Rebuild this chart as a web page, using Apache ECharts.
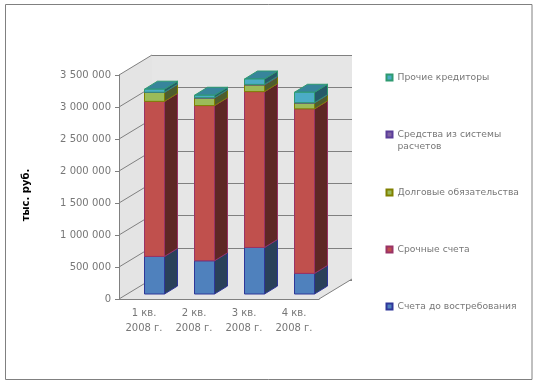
<!DOCTYPE html>
<html>
<head>
<meta charset="utf-8">
<script src="https://cdn.jsdelivr.net/npm/echarts@6/dist/echarts.min.js"></script>
<style>
  html, body { margin: 0; padding: 0; background: #fff; }
  #chart { width: 539px; height: 384px; }
</style>
</head>
<body>
<div id="chart"></div>
<script>
const quarters = ['1 кв.\n2008 г.', '2 кв.\n2008 г.', '3 кв.\n2008 г.', '4 кв.\n2008 г.'];
const demandAccounts = [587000, 519000, 727000, 322000];
const termAccounts = [2423000, 2425000, 2435000, 2571000];
const debtObligations = [140000, 120000, 104000, 93000];
const settlementFunds = [3000, 3000, 9000, 3000];
const otherCreditors = [47000, 38000, 84000, 163000];

const yTicks = [0, 500000, 1000000, 1500000, 2000000, 2500000, 3000000, 3500000];

const seriesDefs = [
  { name: 'Счета до востребования', values: demandAccounts, front: '#4f81bd', side: '#2a4159', top: '#3d6590', line: '#2f3699', legendY: 306 },
  { name: 'Срочные счета', values: termAccounts, front: '#c0504d', side: '#5e2725', top: '#8f3b39', line: '#993366', legendY: 249 },
  { name: 'Долговые обязательства', values: debtObligations, front: '#9bbb59', side: '#4e5d2d', top: '#748c43', line: '#808000', legendY: 192 },
  { name: 'Средства из системы расчетов', values: settlementFunds, front: '#8064a2', side: '#403251', top: '#604b7a', line: '#5a3d99', legendY: 134 },
  { name: 'Прочие кредиторы', values: otherCreditors, front: '#4bacc6', side: '#255a68', top: '#37859b', line: '#2e9a70', legendY: 77 }
];

// depth of the fake 3d box
const wallDx = 33;
const wallDy = 20;
// bars stand a bit inside the floor
const barDx = 10;
const barDy = 5;
const barWidth = 20;
const barSideDx = 13;
const barSideDy = 8;

const axisGrey = '#808080';
const labelGrey = '#777777';
const wallFill = '#e6e6e6';

function renderWalls(params, api) {
  const box = params.coordSys;
  const y = api.coord([0, api.value(0)])[1];
  const children = [];
  if (params.dataIndex === 0) {
    children.push({
      type: 'polygon',
      shape: { points: [[box.x, box.y], [box.x + wallDx, box.y - wallDy], [box.x + wallDx, y - wallDy], [box.x, y]] },
      style: { fill: '#e4e4e4' }
    });
    children.push({
      type: 'polygon',
      shape: { points: [[box.x, y], [box.x + wallDx, y - wallDy], [box.x + box.width + wallDx, y - wallDy], [box.x + box.width, y]] },
      style: { fill: wallFill }
    });
    children.push({
      type: 'line',
      shape: { x1: box.x + box.width, y1: y, x2: box.x + box.width + wallDx, y2: y - wallDy },
      style: { stroke: axisGrey, lineWidth: 1 }
    });
  }
  children.push({
    type: 'line',
    shape: { x1: box.x, y1: y, x2: box.x + wallDx, y2: y - wallDy },
    style: { stroke: axisGrey, lineWidth: 1 }
  });
  return { type: 'group', children: children };
}

function makeBarRenderer(def) {
  return function (params, api) {
    const low = api.coord([api.value(0), api.value(1)]);
    const high = api.coord([api.value(0), api.value(2)]);
    const x0 = Math.round(low[0] + barDx - barWidth / 2) + 0.5;
    const x1 = x0 + barWidth;
    const y0 = low[1] - barDy;
    const y1 = high[1] - barDy;
    const border = { stroke: def.line, lineWidth: 1 };
    return {
      type: 'group',
      children: [
        {
          type: 'polygon',
          shape: { points: [[x1, y0], [x1 + barSideDx, y0 - barSideDy], [x1 + barSideDx, y1 - barSideDy], [x1, y1]] },
          style: Object.assign({ fill: def.side }, border)
        },
        {
          type: 'polygon',
          shape: { points: [[x0, y1], [x0 + barSideDx, y1 - barSideDy], [x1 + barSideDx, y1 - barSideDy], [x1, y1]] },
          style: Object.assign({ fill: def.top }, border)
        },
        {
          type: 'polygon',
          shape: { points: [[x0, y0], [x1, y0], [x1, y1], [x0, y1]] },
          style: Object.assign({ fill: def.front }, border)
        }
      ]
    };
  };
}

// running totals for the stack
const totals = quarters.map(() => 0);
const barSeries = seriesDefs.map((def) => {
  const data = def.values.map((v, i) => {
    const row = [i, totals[i], totals[i] + v];
    totals[i] += v;
    return row;
  });
  return {
    type: 'custom',
    name: def.name,
    xAxisIndex: 0,
    yAxisIndex: 0,
    z: 5,
    silent: true,
    itemStyle: { color: def.front, borderColor: def.line, borderWidth: 1 },
    encode: { x: 0, y: [1, 2] },
    renderItem: makeBarRenderer(def),
    data: data
  };
});

const legendFont = { fontFamily: 'DejaVu Sans', fontSize: 9.2, color: labelGrey, lineHeight: 12 };

const legends = seriesDefs.map((def) => {
  const twoLines = def.name.indexOf('расчетов') >= 0;
  return {
    data: [def.name],
    left: 385.5,
    // the empty first line keeps the marker level with the first text line
    top: def.legendY - (twoLines ? 18 : 6) + 0.5,
    padding: 0,
    icon: 'rect',
    itemWidth: 6,
    itemHeight: 6,
    itemGap: 4,
    selectedMode: false,
    textStyle: legendFont,
    formatter: (name) => twoLines ? '\nСредства из системы\nрасчетов' : name
  };
});

const option = {
  animation: false,
  backgroundColor: '#fff',
  legend: legends,
  grid: [
    { left: 119, right: 220, top: 75, bottom: 85, containLabel: false },
    { left: 152, right: 187, top: 55, bottom: 104, show: true, backgroundColor: wallFill, borderWidth: 0 }
  ],
  xAxis: [
    {
      type: 'category',
      gridIndex: 0,
      data: quarters,
      z: 3,
      axisLine: { lineStyle: { color: axisGrey, width: 1 } },
      axisTick: { alignWithLabel: false, length: 4, lineStyle: { color: axisGrey } },
      axisLabel: { margin: 7, color: labelGrey, fontFamily: 'DejaVu Sans', fontSize: 10, lineHeight: 15, interval: 0 }
    },
    {
      type: 'category',
      gridIndex: 1,
      data: quarters,
      show: false
    }
  ],
  yAxis: [
    {
      type: 'value',
      gridIndex: 0,
      min: 0,
      max: 3500000,
      interval: 500000,
      z: 3,
      splitLine: { show: false },
      axisLine: { show: true, lineStyle: { color: axisGrey, width: 1 } },
      axisTick: { show: true, length: 4, lineStyle: { color: axisGrey } },
      axisLabel: {
        margin: 8,
        color: labelGrey,
        fontFamily: 'DejaVu Sans',
        fontSize: 10,
        formatter: (v) => String(v).replace(/\B(?=(\d{3})+$)/g, ' ')
      }
    },
    {
      type: 'value',
      gridIndex: 1,
      min: 0,
      max: 3500000,
      interval: 500000,
      axisLine: { show: false },
      axisTick: { show: false },
      axisLabel: { show: false },
      splitLine: { show: true, lineStyle: { color: axisGrey, width: 1 } }
    }
  ],
  graphic: [
    {
      type: 'rect',
      shape: { x: 5.5, y: 4.5, width: 526.5, height: 375 },
      style: { fill: 'none', stroke: '#808080', lineWidth: 1 },
      z: -1
    },
    {
      type: 'text',
      x: 26,
      y: 195,
      rotation: Math.PI / 2,
      style: {
        text: 'тыс. руб.',
        fill: '#000',
        font: 'bold 10px "DejaVu Sans"',
        align: 'center',
        verticalAlign: 'middle'
      }
    }
  ],
  series: [
    {
      type: 'custom',
      name: 'walls',
      xAxisIndex: 0,
      yAxisIndex: 0,
      z: 1,
      silent: true,
      encode: { y: 0 },
      renderItem: renderWalls,
      data: yTicks.map((v) => [v])
    }
  ].concat(barSeries)
};

const chart = echarts.init(document.getElementById('chart'), null, { renderer: 'canvas' });
chart.setOption(option);
</script>
</body>
</html>
